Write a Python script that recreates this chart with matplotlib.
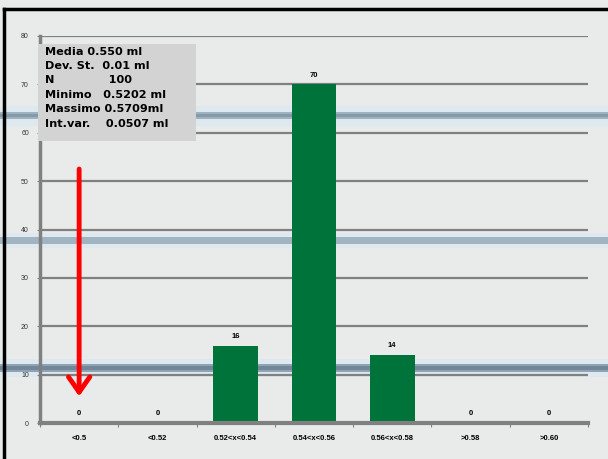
import numpy as np
import matplotlib
matplotlib.use('Agg')
import matplotlib.pyplot as plt
from matplotlib.patches import Rectangle

categories = ['<0.5', '<0.52', '0.52<x<0.54', '0.54<x<0.56', '0.56<x<0.58', '>0.58', '>0.60']
counts = [0, 0, 16, 70, 14, 0, 0]
yticks = [0, 10, 20, 30, 40, 50, 60, 70, 80]
stats_lines = ['Media 0.550 ml', 'Dev. St.  0.01 ml', 'N              100',
               'Minimo   0.5202 ml', 'Massimo 0.5709ml', 'Int.var.    0.0507 ml']
arrow_from = 52.5
arrow_to = 5.5

plt.rcParams['font.family'] = ['Liberation Sans', 'DejaVu Sans']

W, H = 608, 459
fig = plt.figure(figsize=(W / 100, H / 100), dpi=100)
fig.patch.set_facecolor('#e9ebeb')

# background picture: pixel coords, y from top
bg = fig.add_axes([0, 0, 1, 1], zorder=-1)
bg.set_xlim(0, W)
bg.set_ylim(H, 0)
bg.axis('off')
for top, bot, col in [(106, 126, '#dde9ef'), (112, 119, '#9eb2c0'), (114, 117, '#8499aa'),
                      (233, 248, '#dde9ef'), (237, 244, '#a0b4c2'),
                      (359, 377, '#dde9ef'), (364, 372, '#8ea3b4'), (366, 370, '#72879a')]:
    bg.add_patch(Rectangle((0, top), W, bot - top, color=col, lw=0))

ax = fig.add_axes([40 / W, 1 - 423 / H, 548 / W, 387 / H])
ax.patch.set_alpha(0)

x = np.arange(len(categories))
ax.bar(x, counts, width=0.57, color='#00733a', zorder=3)
for xi, c in zip(x, counts):
    ax.text(xi, c + 1.2, str(c), ha='center', va='bottom', fontsize=5.5, fontweight='bold', zorder=4)

ax.set_xlim(-0.5, len(categories) - 0.5)
ax.set_ylim(0, 80)
ax.set_yticks(yticks)
ax.set_yticklabels([str(v) for v in yticks], fontsize=5, color='#333333')
for v in yticks[1:]:
    ax.axhline(v, color='#808080', lw=1.6, zorder=1)

ax.set_xticks(np.arange(-0.5, len(categories)), labels=[])
ax.set_xticks(x, labels=categories, minor=True)
ax.tick_params(axis='x', which='major', length=3, color='#808080')
ax.tick_params(axis='x', which='minor', length=0, pad=9, labelsize=5.5)
for lab in ax.get_xticklabels(minor=True):
    lab.set_fontweight('bold')
ax.tick_params(axis='y', length=2, color='#808080', pad=6)

for s in ['top', 'right']:
    ax.spines[s].set_visible(False)
for s, lw in [('left', 2.5), ('bottom', 3)]:
    ax.spines[s].set_color('#808080')
    ax.spines[s].set_linewidth(lw)
    ax.spines[s].set_zorder(5)

# red arrow
ax.annotate('', xy=(0, arrow_to), xytext=(0, arrow_from),
            arrowprops=dict(arrowstyle='->,head_length=0.5,head_width=0.35',
                            color='#ff0000', lw=3.5, mutation_scale=22, shrinkA=0, shrinkB=0),
            zorder=6)

# overlay: stats box and black frame
top_ax = fig.add_axes([0, 0, 1, 1], zorder=10)
top_ax.set_xlim(0, W)
top_ax.set_ylim(H, 0)
top_ax.axis('off')
top_ax.add_patch(Rectangle((38, 44), 158, 97, color='#d3d3d3', lw=0))
line_y = [52, 66, 80, 95, 109, 124]
for t, py in zip(stats_lines, line_y):
    top_ax.text(45, py, t, fontsize=8.1, fontweight='bold', va='center', ha='left',
                family='DejaVu Sans')
top_ax.plot([4, 4], [H, 9], color='black', lw=2.5)
top_ax.plot([4, W], [9, 9], color='black', lw=2.5)

fig.savefig('out.png', dpi=100, facecolor=fig.get_facecolor())
